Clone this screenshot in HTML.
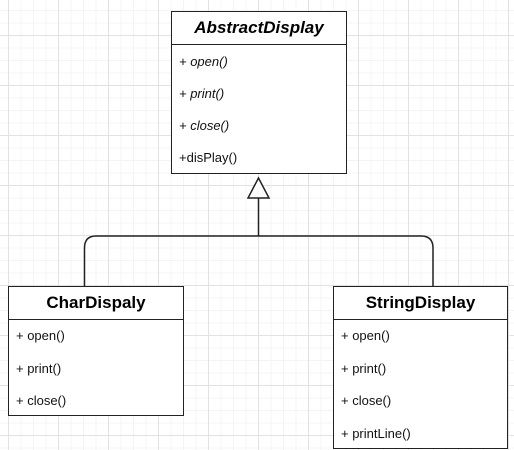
<!DOCTYPE html>
<html><head><style>
html,body{margin:0;padding:0}
body{width:514px;height:450px;position:relative;overflow:hidden;background-color:#fff;
background-image:linear-gradient(#e2e2e2 1px,transparent 1px),linear-gradient(90deg,#e2e2e2 1px,transparent 1px),linear-gradient(#f4f4f4 1px,transparent 1px),linear-gradient(90deg,#f4f4f4 1px,transparent 1px);
background-size:50px 50px,50px 50px,12.5px 12.5px,12.5px 12.5px;background-position:8px 35px,8px 35px,8px 35px,8px 35px;font-family:"Liberation Sans",Arial,sans-serif}
.box{position:absolute;border:1.5px solid #222;background:#fff;box-sizing:border-box}
.hd{height:32px;border-bottom:1.5px solid #222;text-align:center;font-weight:bold;font-size:17px;line-height:31px;color:#000}
.r{position:absolute;left:7px;font-size:13px;color:#111}
</style></head><body>
<svg width="514" height="450" style="position:absolute;left:0;top:0">
<path d="M258.5 198 V236 M84.5 287 V248 Q84.5 236 96 236 H421 Q433 236 433 248 V287" fill="none" stroke="#222" stroke-width="1.5"/>
<polygon points="258.5,178 248,198 269,198" fill="#fff" stroke="#222" stroke-width="1.5"/>
</svg>
<div class="box" style="left:171px;top:11px;width:176px;height:163px">
<div class="hd" style="font-style:italic">AbstractDisplay</div>
<div class="r" style="top:42px;font-style:italic">+ open()</div>
<div class="r" style="top:74px;font-style:italic">+ print()</div>
<div class="r" style="top:106px;font-style:italic">+ close()</div>
<div class="r" style="top:138px">+disPlay()</div>
</div>
<div class="box" style="left:8px;top:286px;width:176px;height:130px">
<div class="hd">CharDispaly</div>
<div class="r" style="top:41px">+ open()</div>
<div class="r" style="top:74px">+ print()</div>
<div class="r" style="top:106px">+ close()</div>
</div>
<div class="box" style="left:333px;top:286px;width:175px;height:163px">
<div class="hd">StringDisplay</div>
<div class="r" style="top:41px">+ open()</div>
<div class="r" style="top:74px">+ print()</div>
<div class="r" style="top:106px">+ close()</div>
<div class="r" style="top:139px">+ printLine()</div>
</div>
</body></html>
